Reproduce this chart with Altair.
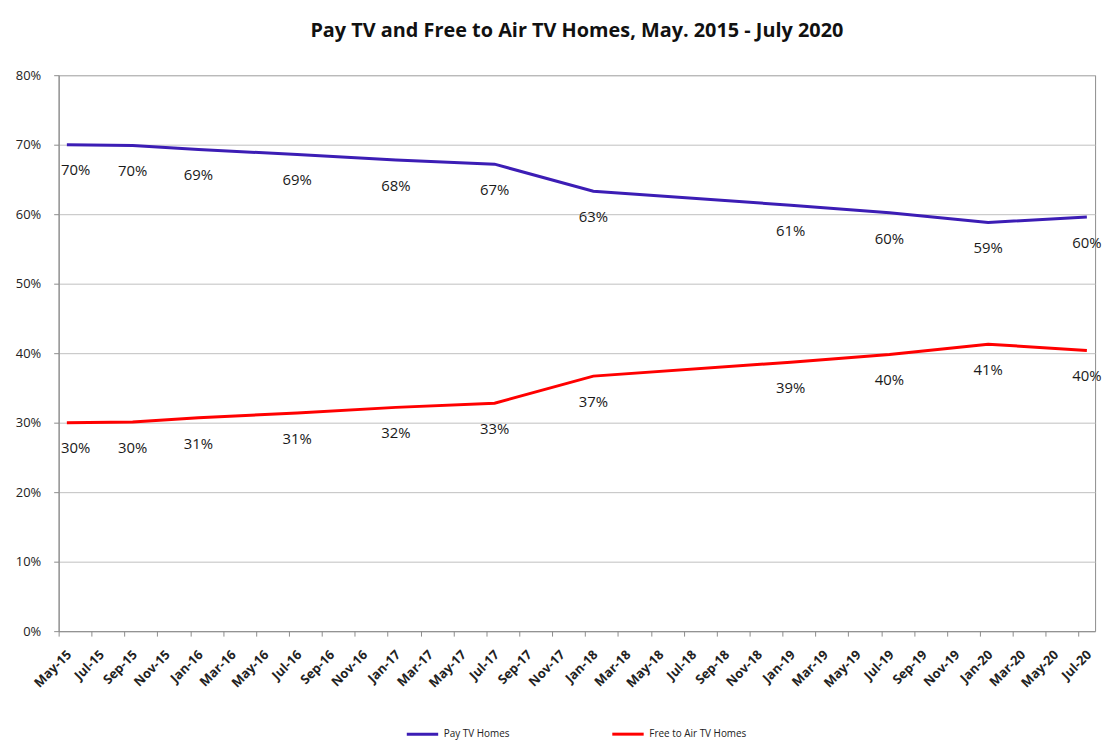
import json
import altair as alt
import pandas as pd

# ---- data ----
tick_labels = ["May-15", "Jul-15", "Sep-15", "Nov-15", "Jan-16", "Mar-16", "May-16", "Jul-16",
               "Sep-16", "Nov-16", "Jan-17", "Mar-17", "May-17", "Jul-17", "Sep-17", "Nov-17",
               "Jan-18", "Mar-18", "May-18", "Jul-18", "Sep-18", "Nov-18", "Jan-19", "Mar-19",
               "May-19", "Jul-19", "Sep-19", "Nov-19", "Jan-20", "Mar-20", "May-20", "Jul-20"]
point_months = ["May-15", "Sep-15", "Jan-16", "Jul-16", "Jan-17", "Jul-17",
                "Jan-18", "Jan-19", "Jul-19", "Jan-20", "Jul-20"]
pay_tv = [0.700, 0.699, 0.693, 0.686, 0.678, 0.672, 0.633, 0.613, 0.602, 0.588, 0.596]
free_to_air = [0.300, 0.301, 0.307, 0.314, 0.322, 0.328, 0.367, 0.387, 0.398, 0.413, 0.404]
series_names = ["Pay TV Homes", "Free to Air TV Homes"]
series_colors = ["#3C1DB5", "#FF0000"]

MONTHS = {"Jan": 1, "Feb": 2, "Mar": 3, "Apr": 4, "May": 5, "Jun": 6,
          "Jul": 7, "Aug": 8, "Sep": 9, "Oct": 10, "Nov": 11, "Dec": 12}


def month_index(label):
    m, y = label.split("-")
    return (2000 + int(y) - 2015) * 12 + MONTHS[m] - 5


rows = []
for name, vals in zip(series_names, [pay_tv, free_to_air]):
    for lab, v in zip(point_months, vals):
        rows.append({"series": name, "month": lab, "x": month_index(lab) + 0.5, "value": v})
df = pd.DataFrame(rows)

tick_values = [month_index(t) for t in tick_labels]
label_expr = json.dumps(tick_labels).replace('"', "'") + "[round(datum.value / 2)]"

FONT = "Open Sans"

x_enc = alt.X("x:Q",
              scale=alt.Scale(domain=[0, 63], nice=False, zero=False),
              axis=alt.Axis(title=None, values=tick_values, tickCount=100, labelExpr=label_expr,
                            labelAngle=-45, labelAlign="right", labelBaseline="top",
                            labelFontSize=13, labelFontWeight="bold", labelColor="#222222",
                            labelFont=FONT, grid=False, tickSize=5, tickColor="#8c8c8c",
                            domainColor="#8c8c8c", labelOverlap=False, labelPadding=12,
                            labelOffset=6))
y_enc = alt.Y("value:Q",
              scale=alt.Scale(domain=[0, 0.8], nice=False),
              axis=alt.Axis(title=None, format=".0%", values=[i / 10 for i in range(9)],
                            tickCount=20, labelPadding=13,
                            labelFontSize=13, labelColor="#222222", labelFont=FONT,
                            gridColor="#bfbfbf", tickColor="#8c8c8c", domainColor="#8c8c8c",
                            tickSize=5, minExtent=44, maxExtent=44))
color_enc = alt.Color("series:N",
                      scale=alt.Scale(domain=series_names, range=series_colors),
                      legend=alt.Legend(title=None, orient="none", direction="horizontal",
                                        legendX=349, legendY=646, symbolType="stroke",
                                        symbolSize=1000, symbolStrokeWidth=3,
                                        labelFontSize=10, labelFont=FONT,
                                        labelColor="#222222", columnPadding=96))

lines = alt.Chart(df).mark_line(strokeWidth=3).encode(
    x=x_enc, y=y_enc, color=color_enc, detail="series:N")

labels = alt.Chart(df).transform_filter("datum.x > 1").mark_text(
    dy=26, fontSize=15, font=FONT, color="#1a1a1a").encode(
    x="x:Q", y="value:Q", text=alt.Text("value:Q", format=".0%"))

first_labels = alt.Chart(df).transform_filter("datum.x < 1").mark_text(
    dy=26, dx=-6, align="left", fontSize=15, font=FONT, color="#1a1a1a").encode(
    x="x:Q", y="value:Q", text=alt.Text("value:Q", format=".0%"))

chart = (lines + labels + first_labels).properties(
    width=1044, height=560,
    padding={"left": 7, "top": 11, "right": 5, "bottom": 5},
    title=alt.TitleParams("Pay TV and Free to Air TV Homes, May. 2015 - July 2020",
                          fontSize=20, font=FONT, fontWeight="bold", color="#111111",
                          anchor="middle", offset=28),
).configure_view(stroke="#8c8c8c")

chart.save("out.html", embed_options={"renderer": "svg", "actions": False})
